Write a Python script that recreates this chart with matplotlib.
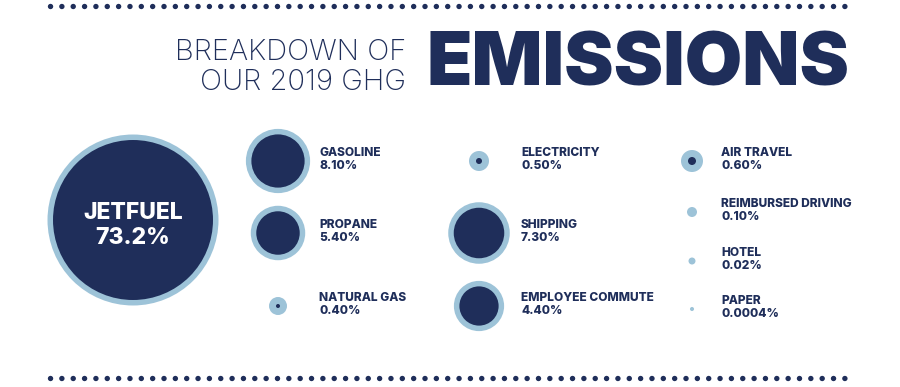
import numpy as np
import matplotlib
matplotlib.use("Agg")
import matplotlib.pyplot as plt
from matplotlib.patches import Circle

# data
categories = ["JETFUEL", "GASOLINE", "PROPANE", "NATURAL GAS", "ELECTRICITY",
              "SHIPPING", "EMPLOYEE COMMUTE", "AIR TRAVEL", "REIMBURSED DRIVING",
              "HOTEL", "PAPER"]
values = [73.2, 8.10, 5.40, 0.40, 0.50, 7.30, 4.40, 0.60, 0.10, 0.02, 0.0004]
value_labels = ["73.2%", "8.10%", "5.40%", "0.40%", "0.50%", "7.30%", "4.40%",
                "0.60%", "0.10%", "0.02%", "0.0004%"]

# layout: (column, row) slot of each category
slots = [(0, 0), (1, 0), (1, 1), (1, 2), (2, 0), (2, 1), (2, 2),
         (3, 0), (3, 1), (3, 2), (3, 3)]
col_x = [133, 278, 479, 692]
col_label_dx = [0, 41, 42, 29]
rows_y = {0: [220], 1: [161, 233, 306], 2: [161, 233, 306], 3: [161, 212, 261, 309]}

NAVY = "#1f2e5a"
LIGHT = "#9dc3d8"
FONT = ["Inter", "DejaVu Sans"]


def radii(v):
    """outer (light ring) and inner (navy) radius in px for a share v"""
    if v >= 1:
        inner = 9.35 * np.sqrt(v)
        return inner + 5.5, inner
    if v >= 0.3:
        return 5 + 10 * v, 10 * (v - 0.2)
    return 1.5 + 3.5 * (v / 0.1) ** 0.35, 0


fig = plt.figure(figsize=(9, 3.87), dpi=100)
ax = fig.add_axes([0, 0, 1, 1])
ax.set_xlim(0, 900)
ax.set_ylim(387, 0)
ax.axis("off")

# dotted rules top and bottom
for y in (6, 378):
    ax.plot([50, 851], [y, y], color=NAVY, lw=3.9, linestyle=(0, (0.01, 2.085)),
            dash_capstyle="round")

# title
ax.text(406, 52, "BREAKDOWN OF", ha="right", va="center", fontsize=21,
        family=FONT, weight="light", color=NAVY)
ax.text(406, 82, "OUR 2019 GHG", ha="right", va="center", fontsize=21,
        family=FONT, weight="light", color=NAVY)
ax.text(638, 66, "EMISSIONS", ha="center", va="center", fontsize=53.5,
        family=FONT, weight="black", color=NAVY)

for name, v, lab, (c, r) in zip(categories, values, value_labels, slots):
    cx, cy = col_x[c], rows_y[c][r]
    outer, inner = radii(v)
    ax.add_patch(Circle((cx, cy), outer, color=LIGHT, lw=0))
    if inner > 0:
        ax.add_patch(Circle((cx, cy), inner, color=NAVY, lw=0))
    if c == 0:
        ax.text(cx, cy - 7, name, ha="center", va="center", fontsize=16.5,
                family=FONT, weight="heavy", color="white")
        ax.text(cx, cy + 18, lab, ha="center", va="center", fontsize=16.5,
                family=FONT, weight="heavy", color="white")
    else:
        lx = cx + col_label_dx[c]
        ax.text(lx, cy - 8, name, ha="left", va="center", fontsize=8.6,
                family=FONT, weight="heavy", color=NAVY)
        ax.text(lx, cy + 5, lab, ha="left", va="center", fontsize=8.6,
                family=FONT, weight="heavy", color=NAVY)

fig.savefig("out.png", dpi=100)
